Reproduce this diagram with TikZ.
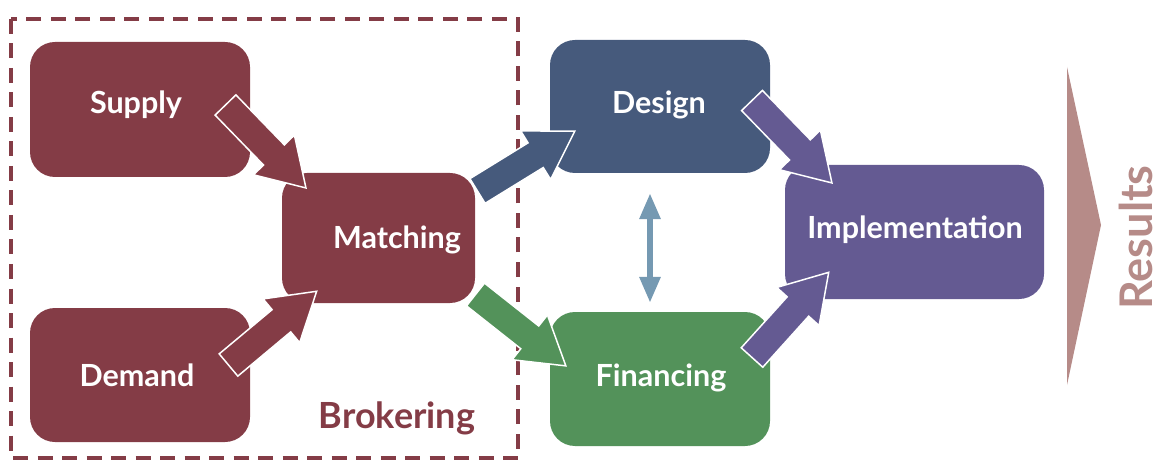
\documentclass[tikz,border=0pt]{standalone}
\usepackage{fontspec}
\setmainfont{Lato}
\usetikzlibrary{arrows.meta}
\definecolor{cMaroon}{HTML}{843C46}
\definecolor{cBlue}{HTML}{465A7C}
\definecolor{cGreen}{HTML}{53925A}
\definecolor{cPurple}{HTML}{645A92}
\definecolor{cLink}{HTML}{7599B2}
\definecolor{cResult}{HTML}{B68B88}
\newcommand\blockarrow[3]{%
  \path (#1); \pgfgetlastxy{\bax}{\bay}%
  \path (#2); \pgfgetlastxy{\bbx}{\bby}%
  \pgfmathsetmacro\baang{atan2(\bby-\bay,\bbx-\bax)}%
  \pgfmathsetmacro\balen{veclen(\bbx-\bax,\bby-\bay)}%
  \pgfmathsetmacro\bahb{\balen-46}%
  \begin{scope}[shift={(#1)}, rotate=\baang]
    \filldraw[barrow, fill=#3] (0,-14.5) -- (\bahb,-14.5) -- (\bahb,-28.5) -- (\balen,0)
      -- (\bahb,28.5) -- (\bahb,14.5) -- (0,14.5) -- cycle;
  \end{scope}}
\tikzset{
  box/.style={rectangle, rounded corners=25pt, inner sep=0pt, draw=none},
  txt/.style={text=white, font=\fontsize{30.5}{34}\selectfont\bfseries, inner sep=0pt},
  barrow/.style={draw=white, line width=1.5pt, line join=miter},
}
\begin{document}
\begin{tikzpicture}[x=1pt, y=-1pt]
\useasboundingbox (0,0) rectangle (1161,462);
% boxes
\node[box, fill=cMaroon, minimum width=220pt, minimum height=135pt] (supply) at (140,109.5) {};
\node[box, fill=cMaroon, minimum width=220pt, minimum height=134pt] (demand) at (140,375) {};
\node[box, fill=cMaroon, minimum width=193pt, minimum height=130pt] (matching) at (378.5,238) {};
\node[box, fill=cBlue, minimum width=220pt, minimum height=133pt] (design) at (660,106.5) {};
\node[box, fill=cGreen, minimum width=220pt, minimum height=134pt] (financing) at (660,379) {};
\node[box, fill=cPurple, minimum width=259pt, minimum height=134pt] (impl) at (914.5,232) {};
% texts
\node[txt] (tsupply) at (136,105) {Supply};
\node[txt] (tdemand) at (137,375) {Demand};
\node[txt] (tmatching) at (397,240) {Matching};
\node[txt] (tdesign) at (659,105) {Design};
\node[txt] (tfinancing) at (661,378) {Financing};
\node[txt] (timpl) at (915,230) {Implementation};
% brokering frame
\draw[cMaroon, line width=4pt, dash pattern=on 15pt off 9.5pt] (11,19) rectangle (518,458);
\node[text=cMaroon, font=\fontsize{36}{40}\selectfont\bfseries, inner sep=0pt] (brok) at (397,418) {Brokering};
% block arrows
\coordinate (a1s) at (225.5,105); \coordinate (a1e) at (306,188);
\coordinate (a2s) at (228.5,365); \coordinate (a2e) at (317,291);
\coordinate (a3s) at (477.5,191); \coordinate (a3e) at (575,131);
\coordinate (a4s) at (475.5,294.5); \coordinate (a4e) at (566,366);
\coordinate (a5s) at (752,100.5); \coordinate (a5e) at (832,183);
\coordinate (a6s) at (752,357.5); \coordinate (a6e) at (829,272);
\blockarrow{a1s}{a1e}{cMaroon}
\blockarrow{a2s}{a2e}{cMaroon}
\blockarrow{a3s}{a3e}{cBlue}
\blockarrow{a4s}{a4e}{cGreen}
\blockarrow{a5s}{a5e}{cPurple}
\blockarrow{a6s}{a6e}{cPurple}
% design <-> financing
\draw[cLink, line width=6pt, {Triangle[length=26pt,width=20pt]}-{Triangle[length=26pt,width=20pt]},
  shorten <=20pt, shorten >=9pt] ([xshift=-10pt]design.south) -- ([xshift=-10pt]financing.north);
% results
\fill[cResult] (1067,67) -- (1101,225) -- (1067,385) -- cycle;
\node[text=cResult, font=\fontsize{45}{49}\selectfont\bfseries, rotate=90, inner sep=0pt] (results) at (1136,237.5) {Results};
\end{tikzpicture}
\end{document}
